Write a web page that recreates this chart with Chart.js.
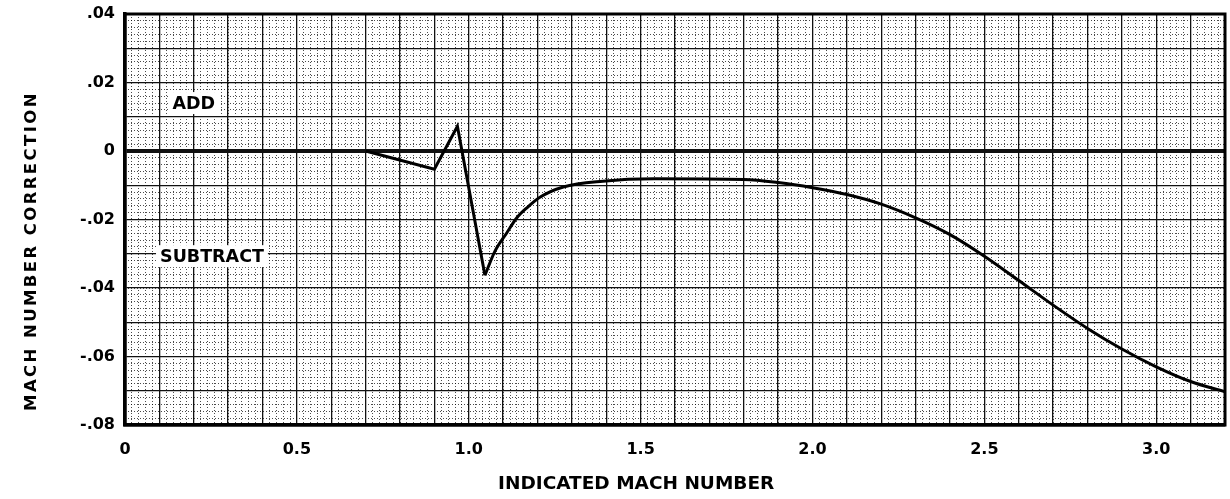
<!DOCTYPE html>
<html>
<head>
<meta charset="utf-8">
<script src="https://cdn.jsdelivr.net/npm/chart.js@4.4.1/dist/chart.umd.min.js"></script>
<style>
  html, body { margin: 0; padding: 0; background: #fff; }
  #wrap { width: 1230px; height: 499px; position: relative; }
</style>
</head>
<body>
<div id="wrap"><canvas id="c"></canvas></div>
<script>
// ---- data ----
const transonicMach = [0.70, 0.90, 0.967, 1.047];
const transonicCorr = [0.0, -0.0053, 0.0072, -0.0363];

const supersonicMach = [1.047, 1.076, 1.11, 1.14, 1.17, 1.207, 1.275, 1.39, 1.54, 1.80, 1.9, 2.0, 2.1, 2.2, 2.3, 2.4, 2.5, 2.6, 2.7, 2.8, 2.9, 3.0, 3.1, 3.2];
const supersonicCorr = [-0.0363, -0.0293, -0.0240, -0.0195, -0.0165, -0.0135, -0.0105, -0.0088, -0.0081, -0.0083, -0.0092, -0.0107, -0.0127, -0.0155, -0.0195, -0.0244, -0.0307, -0.0378, -0.0450, -0.0518, -0.0578, -0.0630, -0.0673, -0.0703];

const xTickLabels = {0: '0', 0.5: '0.5', 1: '1.0', 1.5: '1.5', 2: '2.0', 2.5: '2.5', 3: '3.0'};
const yTickLabels = {0.04: '.04', 0.02: '.02', 0: '0', '-0.02': '-.02', '-0.04': '-.04', '-0.06': '-.06', '-0.08': '-.08'};

const xTitle = 'INDICATED MACH NUMBER';
const yTitle = 'MACH NUMBER CORRECTION';
const notes = [
  {text: 'ADD', x: 0.200, y: 0.0140},
  {text: 'SUBTRACT', x: 0.253, y: -0.0307}
];

const FONT = '"DejaVu Sans", sans-serif';

function toPts(xs, ys) { return xs.map((x, i) => ({x: x, y: ys[i]})); }
function lookup(map, v) {
  for (const k in map) { if (Math.abs(parseFloat(k) - v) < 1e-6) return map[k]; }
  return '';
}
function fixBox(w, h) {
  return function (s) {
    if (w !== null) s.width = w;
    if (h !== null) s.height = h;
    s.paddingTop = 0; s.paddingBottom = 0; s.paddingLeft = 0; s.paddingRight = 0;
  };
}

const textPlugin = {
  id: 'texts',
  afterDatasetsDraw(chart) {
    const ctx = chart.ctx;
    const xs = chart.scales.x, ys = chart.scales.y;
    ctx.save();
    ctx.font = 'bold 17.5px ' + FONT;
    ctx.textAlign = 'center';
    ctx.textBaseline = 'middle';
    notes.forEach(n => {
      const px = xs.getPixelForValue(n.x), py = ys.getPixelForValue(n.y);
      const w = ctx.measureText(n.text).width;
      ctx.fillStyle = '#fff';
      ctx.fillRect(px - w / 2 - 4, py - 11, w + 8, 22);
      ctx.fillStyle = '#000';
      ctx.fillText(n.text, px, py + 1);
    });
    ctx.restore();
  },
  afterDraw(chart) {
    const ctx = chart.ctx;
    const xs = chart.scales.x, ys = chart.scales.y;
    ctx.save();
    ctx.fillStyle = '#000';
    ctx.textAlign = 'center';
    ctx.textBaseline = 'middle';
    ctx.font = 'bold 18.5px ' + FONT;
    ctx.fillText(xTitle, xs.getPixelForValue(1.487), chart.height - 15);
    ctx.translate(32, ys.getPixelForValue(-0.0292));
    ctx.rotate(-Math.PI / 2);
    ctx.font = 'bold 16.5px ' + FONT;
    try { ctx.letterSpacing = '2.4px'; } catch (e) {}
    ctx.fillText(yTitle, 0, 0);
    ctx.restore();
  }
};

const minorGrid = {
  color: 'rgba(0,0,0,0.7)',
  lineWidth: 1,
  drawTicks: false
};

new Chart(document.getElementById('c'), {
  type: 'line',
  data: {
    datasets: [
      {
        data: toPts(transonicMach, transonicCorr),
        borderColor: '#000', borderWidth: 3, pointRadius: 0, tension: 0, fill: false
      },
      {
        data: toPts(supersonicMach, supersonicCorr),
        borderColor: '#000', borderWidth: 3, pointRadius: 0, cubicInterpolationMode: 'monotone', fill: false
      }
    ]
  },
  options: {
    responsive: true,
    maintainAspectRatio: false,
    animation: false,
    events: [],
    layout: { padding: { left: 0, right: 5, top: 14, bottom: 0 } },
    plugins: { legend: { display: false }, tooltip: { enabled: false }, title: { display: false } },
    scales: {
      xMinor: {
        type: 'linear', position: 'top', min: 0, max: 3.2,
        ticks: { display: false, stepSize: 0.02, autoSkip: false, padding: 0 },
        grid: minorGrid,
        border: { display: false, dash: [1, 2] },
        afterFit: fixBox(null, 0)
      },
      yMinor: {
        type: 'linear', position: 'right', min: -0.08, max: 0.04,
        ticks: { display: false, stepSize: 0.002, autoSkip: false, padding: 0 },
        grid: minorGrid,
        border: { display: false, dash: [1, 2] },
        afterFit: fixBox(0, null)
      },
      x: {
        type: 'linear', position: 'bottom', min: 0, max: 3.2,
        ticks: {
          stepSize: 0.1, autoSkip: false, maxRotation: 0, minRotation: 0, padding: 15,
          color: '#000', font: { family: FONT, size: 16, weight: 'bold' },
          callback: (v) => lookup(xTickLabels, v)
        },
        grid: { color: '#111', lineWidth: 1.3, drawTicks: false },
        border: { display: true, color: '#000', width: 3.5 },
        afterFit: fixBox(null, 74)
      },
      y: {
        type: 'linear', position: 'left', min: -0.08, max: 0.04,
        ticks: {
          stepSize: 0.01, autoSkip: false, padding: 10,
          color: '#000', font: { family: FONT, size: 16, weight: 'bold' },
          callback: (v) => lookup(yTickLabels, v)
        },
        grid: {
          color: '#111', drawTicks: false,
          lineWidth: (c) => (c.tick && Math.abs(c.tick.value) < 1e-9 ? 4 : 1.3)
        },
        border: { display: true, color: '#000', width: 3.5 },
        afterFit: fixBox(125, null)
      }
    }
  },
  plugins: [textPlugin, {
    id: 'frame',
    afterDatasetsDraw(chart) {
      const a = chart.chartArea, ctx = chart.ctx;
      ctx.save();
      ctx.strokeStyle = '#000';
      ctx.lineWidth = 3;
      ctx.strokeRect(a.left, a.top, a.right - a.left, a.bottom - a.top);
      ctx.restore();
    }
  }]
});
</script>
</body>
</html>
